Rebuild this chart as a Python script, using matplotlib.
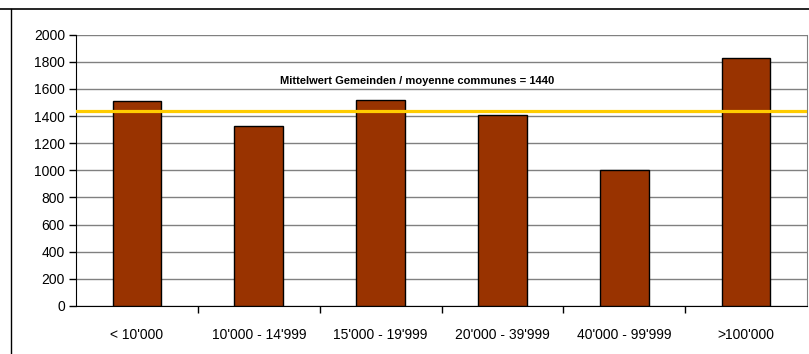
import matplotlib.pyplot as plt
from matplotlib.lines import Line2D
import numpy as np

plt.rcParams['font.family'] = ['Liberation Sans', 'DejaVu Sans']

categories = ["< 10'000", "10'000 - 14'999", "15'000 - 19'999",
              "20'000 - 39'999", "40'000 - 99'999", ">100'000"]
values = [1510, 1330, 1520, 1410, 1005, 1825]
mean_value = 1440
mean_label = "Mittelwert Gemeinden / moyenne communes = 1440"

fig = plt.figure(figsize=(8.09, 3.54), dpi=100)
ax = fig.add_axes([0.094, 0.136, 0.9035, 0.766])

x = np.arange(len(categories))
ax.bar(x, values, width=0.4, color='#993300', edgecolor='black', linewidth=1, zorder=3)
ax.axhline(mean_value, color='#FFCC00', linewidth=2.3, zorder=4)
ax.text(2.3, 1655, mean_label, ha='center', va='center', fontsize=8,
        fontweight='bold', zorder=5)

ax.set_xlim(-0.5, len(categories) - 0.5)
ax.set_ylim(0, 2000)
ax.set_yticks(range(0, 2001, 200))
ax.yaxis.grid(True, color='#808080', linewidth=1)
ax.set_axisbelow(True)

ax.set_xticks(x)
ax.set_xticklabels(categories)
ax.set_xticks(np.arange(0.5, len(categories) - 0.5, 1), minor=True)
ax.tick_params(axis='x', which='major', length=0, pad=16, labelsize=10)
ax.tick_params(axis='x', which='minor', length=5, width=1, direction='out')
ax.tick_params(axis='y', length=5, width=1, labelsize=10, pad=3)

ax.spines['top'].set_visible(False)
ax.spines['right'].set_color('#808080')
ax.spines['left'].set_color('black')
ax.spines['bottom'].set_color('black')

# outer chart frame
fig.add_artist(Line2D([0, 1], [1 - 8.5 / 354, 1 - 8.5 / 354], color='black', linewidth=1.2))
fig.add_artist(Line2D([10.5 / 809, 10.5 / 809], [0, 1 - 8.5 / 354], color='black', linewidth=1))

fig.savefig('out.png', dpi=100)
